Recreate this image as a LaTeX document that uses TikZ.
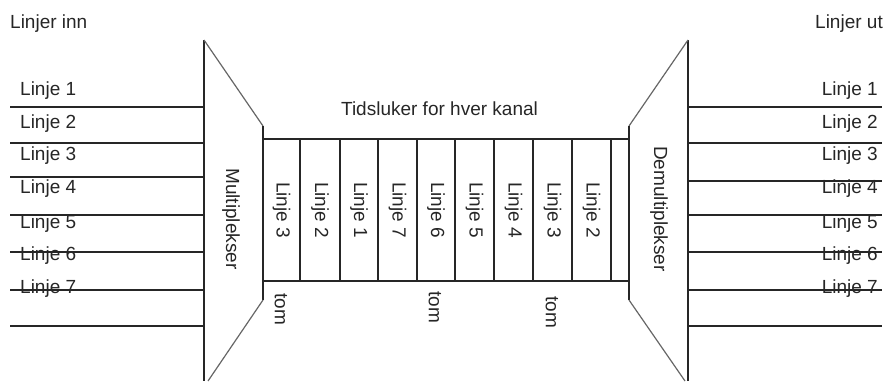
\documentclass[tikz,border=0pt]{standalone}
\usepackage{fontspec}
\setmainfont{Liberation Sans}
\begin{document}
\begin{tikzpicture}[x=1pt,y=-1pt,
  line/.style={line width=1.5pt, draw=black!85},
  slant/.style={line width=1.2pt, draw=black!60},
  lbl/.style={inner sep=0pt, font=\fontsize{19}{22}\selectfont, text=black!85},
  vlbl/.style={lbl, rotate=-90}]
\useasboundingbox (0,0) rectangle (888,381);

% multiplexer outline
\coordinate (muxTL) at (204,40);
\coordinate (muxBL) at (204,381);
\coordinate (muxTR) at (263,126);
\coordinate (muxBR) at (263,300);
\coordinate (muxEnd) at (208,381);
\draw[line] (muxTL) -- (muxBL);
\draw[slant] (muxTL) -- (muxTR);
\draw[line] (muxTR) -- (muxBR);
\draw[slant] (muxBR) -- (muxEnd);

% demultiplexer outline
\coordinate (dmxTR) at (688,40);
\coordinate (dmxBR) at (688,381);
\coordinate (dmxTL) at (629,126);
\coordinate (dmxBL) at (629,300);
\coordinate (dmxEnd) at (685,381);
\draw[line] (dmxTR) -- (dmxBR);
\draw[slant] (dmxTR) -- (dmxTL);
\draw[line] (dmxTL) -- (dmxBL);
\draw[slant] (dmxBL) -- (dmxEnd);

% time slot frame
\draw[line] (263,139) rectangle (629,281);
\foreach \x in {300,340,378,417,455,494,533,572,611}
  \draw[line] (\x,139) -- (\x,281);

% input and output lines
\foreach \y in {107,143,177,215,252,290,326}
  \draw[line] (10,\y) -- (204,\y);
\foreach \y in {107,143,181,215,252,290,326}
  \draw[line] (688,\y) -- (882,\y);

% headings
\node[lbl, anchor=base west] (inn) at (10,28) {Linjer inn};
\node[lbl, anchor=base east] (ut) at (883,28) {Linjer ut};
\node[lbl, anchor=base] (tids) at (439.5,115) {Tidsluker for hver kanal};

% line labels
\foreach \n/\y in {1/95,2/128,3/160,4/193,5/228,6/260,7/293}{
  \node[lbl, anchor=base west] (in\n) at (20,\y) {Linje \n};
  \node[lbl, anchor=base east] (out\n) at (878,\y) {Linje \n};
}

% multiplexer names
\node[vlbl] (mux) at (231,219) {Multiplekser};
\node[vlbl] (dmx) at (659,209) {Demultiplekser};

% slot contents
\foreach \x/\n [count=\i] in {281.5/3,320/2,359/1,397.5/7,436/6,474.5/5,513.5/4,552.5/3,591.5/2}
  \node[vlbl] (slot\i) at (\x,210) {Linje \n};

% empty slot markers
\node[vlbl] (tomA) at (281,309) {tom};
\node[vlbl] (tomB) at (435,307) {tom};
\node[vlbl] (tomC) at (552,312) {tom};
\end{tikzpicture}
\end{document}
